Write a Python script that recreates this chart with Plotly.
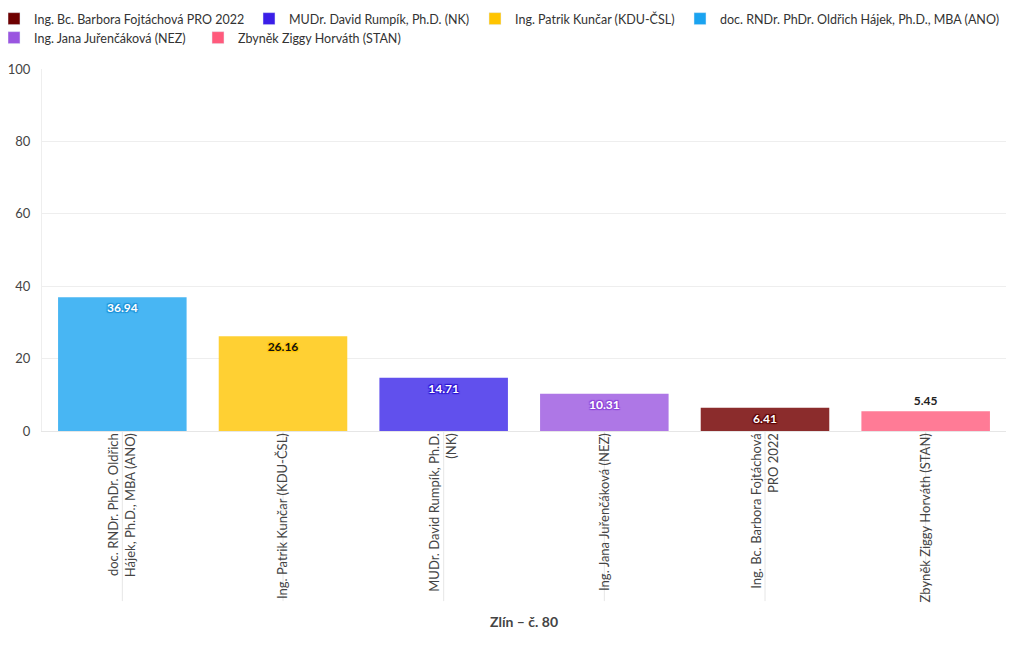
import plotly.graph_objects as go

# legend order
legend_names = [
    "Ing. Bc. Barbora Fojtáchová PRO 2022",
    "MUDr. David Rumpík, Ph.D. (NK)",
    "Ing. Patrik Kunčar (KDU-ČSL)",
    "doc. RNDr. PhDr. Oldřich Hájek, Ph.D., MBA (ANO)",
    "Ing. Jana Juřenčáková (NEZ)",
    "Zbyněk Ziggy Horváth (STAN)",
]
legend_colors = ["#6e0000", "#3a1ee8", "#ffc400", "#1aa3f0", "#9a55e0", "#ff5a7c"]

# bar order (x axis)
candidates = [
    "doc. RNDr. PhDr. Oldřich Hájek, Ph.D., MBA (ANO)",
    "Ing. Patrik Kunčar (KDU-ČSL)",
    "MUDr. David Rumpík, Ph.D. (NK)",
    "Ing. Jana Juřenčáková (NEZ)",
    "Ing. Bc. Barbora Fojtáchová PRO 2022",
    "Zbyněk Ziggy Horváth (STAN)",
]
tick_labels = [
    "doc. RNDr. PhDr. Oldřich<br>Hájek, Ph.D., MBA (ANO)",
    "Ing. Patrik Kunčar (KDU-ČSL)",
    "MUDr. David Rumpík, Ph.D.<br>(NK)",
    "Ing. Jana Juřenčáková (NEZ)",
    "Ing. Bc. Barbora Fojtáchová<br>PRO 2022",
    "Zbyněk Ziggy Horváth (STAN)",
]
values = [36.94, 26.16, 14.71, 10.31, 6.41, 5.45]
bar_colors = ["#48b6f3", "#ffd033", "#6150ed", "#ae77e6", "#8b2c2c", "#ff7b96"]
text_colors = ["#ffffff", "#111111", "#ffffff", "#ffffff", "#ffffff", "#222222"]
text_shadows = ["#1a8fd6", "#ffc400", "#2a10d0", "#8a40d8", "#5a0000", "none"]
text_positions = ["inside", "inside", "inside", "inside", "inside", "outside"]
axis_title = "Zlín – č. 80"

FONT = "Lato"
fig = go.Figure()

# bars (no legend)
for i, c in enumerate(candidates):
    sh = text_shadows[i]
    fig.add_trace(go.Bar(
        x=[c], y=[values[i]],
        marker=dict(color=bar_colors[i], line=dict(width=0)),
        text=[f"{values[i]:.2f}"],
        textposition=text_positions[i],
        insidetextanchor="end",
        textangle=0,
        cliponaxis=False,
        textfont=dict(family=FONT, size=12, color=text_colors[i], weight="bold",
                      shadow=("none" if sh == "none" else f"1px 1px 1px {sh}, -1px -1px 1px {sh}, 1px -1px 1px {sh}, -1px 1px 1px {sh}")),
        showlegend=False,
        hoverinfo="x+y",
    ))

# legend entries: one small legend per entry, laid out in two rows
legend_ids = ["legend", "legend2", "legend3", "legend4", "legend5", "legend6"]
for n, col, lg in zip(legend_names, legend_colors, legend_ids):
    fig.add_trace(go.Bar(x=[None], y=[None], name=n, marker=dict(color=col),
                         showlegend=True, legend=lg))

# vertical separator lines below axis at each category
for c in candidates:
    fig.add_shape(type="line", xref="x", yref="paper", x0=c, x1=c, y0=0, y1=-0.47,
                  line=dict(color="#e6e6e6", width=1), layer="below")

ML, MT = 34, 61
PW = 1020 - ML - 22
# legend layout (screen px origin of each entry, row centre y in px)
leg_x_px = [-6, 249, 475, 680, -6, 198]
leg_y_px = [11, 11, 11, 11, 30, 30]
legends = {}
for lg, xp, yp in zip(legend_ids, leg_x_px, leg_y_px):
    legends[lg] = dict(orientation="h", xref="paper", yref="container",
                       x=(xp - 42) / PW, y=1 - yp / 650,
                       xanchor="left", yanchor="middle",
                       font=dict(size=12.5, color="#333"),
                       itemwidth=30, tracegroupgap=0, bgcolor="rgba(0,0,0,0)")

fig.update_layout(
    width=1020, height=650,
    margin=dict(l=ML, r=22, t=MT, b=227, autoexpand=False),
    paper_bgcolor="white", plot_bgcolor="white",
    font=dict(family=FONT, size=13, color="#444"),
    barmode="overlay",
    bargap=0.2,
    xaxis=dict(
        type="category", categoryorder="array", categoryarray=candidates,
        tickmode="array", tickvals=candidates, ticktext=tick_labels,
        tickangle=-90, showgrid=False, showline=True, linecolor="#e6e6e6",
        ticks="", tickfont=dict(size=13, color="#444"), ticklabelstandoff=-4,
        title=dict(text=f"<b>{axis_title}</b>", font=dict(size=14, color="#444"), standoff=15),
    ),
    yaxis=dict(
        range=[0, 100], tickvals=[0, 20, 40, 60, 80, 100],
        showgrid=True, gridcolor="#eeeeee", zeroline=False,
        showline=True, linecolor="#eeeeee", ticks="", ticklabelstandoff=8,
        tickfont=dict(size=13, color="#444"),
    ),
    **legends,
)

fig.write_html("out.html")
